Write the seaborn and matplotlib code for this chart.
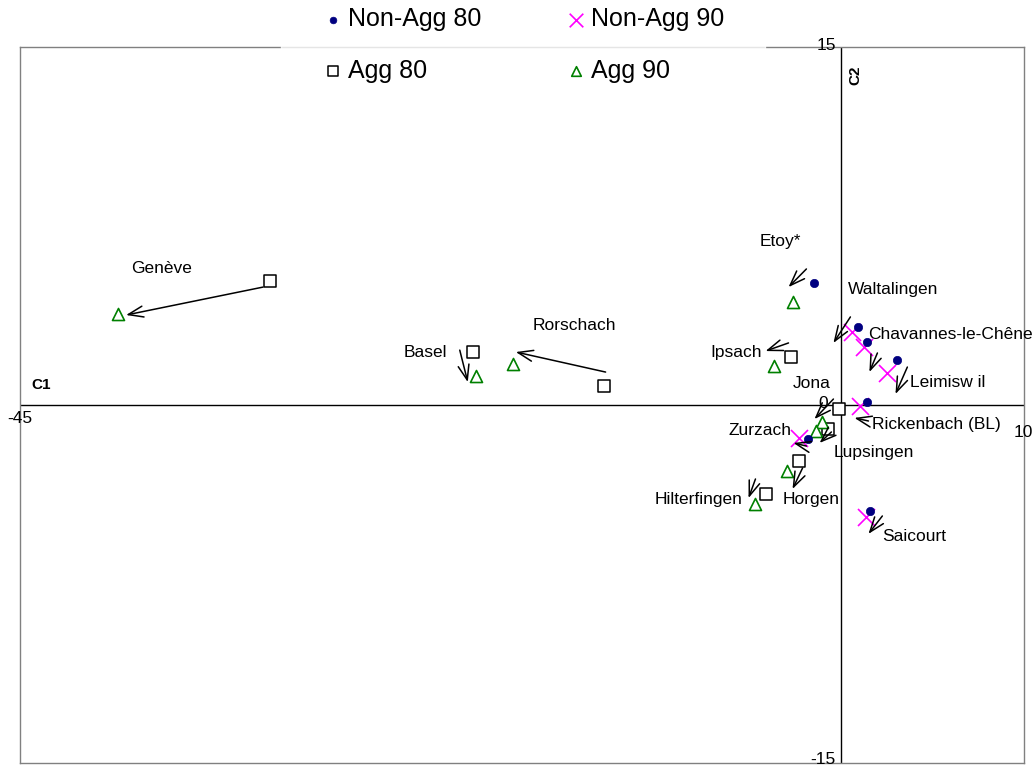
import numpy as np
import pandas as pd
import seaborn as sns
import matplotlib.pyplot as plt

# Communes on the first two components (C1, C2), 1980 and 1990
nonagg80_names = ["Etoy*", "Waltalingen", "Chavannes-le-Chêne", "Leimiswil",
                  "Rickenbach (BL)", "Zurzach", "Saicourt"]
nonagg80_c1 = [-1.53, 0.88, 1.42, 3.06, 1.42, -1.86, 1.59]
nonagg80_c2 = [5.11, 3.27, 2.64, 1.89, 0.13, -1.42, -4.44]

nonagg90_names = ["Waltalingen", "Chavannes-le-Chêne", "Leimiswil",
                  "Rickenbach (BL)", "Zurzach", "Saicourt"]
nonagg90_c1 = [0.60, 1.26, 2.52, 0.99, -2.35, 1.37]
nonagg90_c2 = [3.06, 2.43, 1.34, -0.04, -1.38, -4.69]

agg80_names = ["Genève", "Basel", "Rorschach", "Ipsach", "Jona",
               "Lupsingen", "Horgen", "Hilterfingen"]
agg80_c1 = [-31.31, -20.20, -13.03, -2.74, -0.16, -0.71, -2.30, -4.16]
agg80_c2 = [5.19, 2.22, 0.80, 2.01, -0.17, -1.01, -2.35, -3.73]

agg90_names = ["Genève", "Basel", "Rorschach", "Etoy*", "Ipsach", "Jona",
               "Lupsingen", "Horgen", "Hilterfingen"]
agg90_c1 = [-39.63, -20.03, -18.01, -2.63, -3.72, -1.04, -1.42, -3.01, -4.71]
agg90_c2 = [3.81, 1.21, 1.72, 4.32, 1.63, -0.71, -1.09, -2.76, -4.15]

# Direction arrows (1980 -> 1990) drawn beside each commune
arrow_from_c1 = [-31.69, -20.91, -12.92, -1.92, -2.90, 0.49, 1.97, 3.61,
                 1.48, -0.44, -0.55, -1.92, -2.13, -4.71, 2.24]
arrow_from_c2 = [4.94, 2.30, 1.38, 5.70, 2.60, 3.69, 2.18, 1.59,
                 -0.67, 0.25, -1.13, -1.72, -2.64, -3.10, -4.65]
arrow_to_c1 = [-39.19, -20.47, -17.84, -2.90, -4.16, -0.44, 1.53, 2.96,
               0.71, -1.48, -1.20, -2.63, -2.68, -5.09, 1.48]
arrow_to_c2 = [3.77, 0.96, 2.22, 4.94, 2.26, 2.60, 1.38, 0.46,
               -0.54, -0.59, -1.59, -1.59, -3.52, -3.90, -5.40]

# Commune name labels
label_text = ["Genève", "Rorschach", "Basel", "Etoy*", "Waltalingen",
              "Chavannes-le-Chêne", "Leimisw il", "Ipsach", "Jona",
              "Rickenbach (BL)", "Zurzach", "Lupsingen", "Horgen",
              "Hilterfingen", "Saicourt"]
label_c1 = [-37.22, -14.61, -22.77, -3.34, 0.38, 1.48, 3.78, -4.38, -1.64,
            1.70, -2.74, -0.44, -1.64, -5.42, 2.24]
label_c2 = [5.70, 3.35, 2.22, 6.83, 4.82, 2.97, 0.96, 2.18, 0.92,
            -0.80, -1.05, -2.01, -3.98, -3.98, -5.49]
label_ha = ["center", "center", "center", "center", "left", "left", "left",
            "right", "center", "left", "right", "left", "center", "right",
            "left"]

sns.set_style("white")
plt.rcParams["font.family"] = ["Liberation Sans", "DejaVu Sans"]
plt.rcParams["text.color"] = "black"

fig = plt.figure(figsize=(10.34, 7.67), dpi=100)
ax = fig.add_axes([20 / 1034, 1 - 763 / 767, 1004 / 1034, 716 / 767])
ax.set_xlim(-45, 10)
ax.set_ylim(-15, 15)

for sp in ax.spines.values():
    sp.set_color("#808080")
    sp.set_linewidth(1.0)
ax.set_xticks([])
ax.set_yticks([])

ax.axhline(0, color="black", lw=1.0, zorder=1)
ax.axvline(0, color="black", lw=1.0, zorder=1)

df_na80 = pd.DataFrame({"C1": nonagg80_c1, "C2": nonagg80_c2, "commune": nonagg80_names})
df_na90 = pd.DataFrame({"C1": nonagg90_c1, "C2": nonagg90_c2, "commune": nonagg90_names})
df_a80 = pd.DataFrame({"C1": agg80_c1, "C2": agg80_c2, "commune": agg80_names})
df_a90 = pd.DataFrame({"C1": agg90_c1, "C2": agg90_c2, "commune": agg90_names})

sns.scatterplot(data=df_na80, x="C1", y="C2", ax=ax, marker="o", s=36,
                color="#000080", edgecolor="#000080", linewidth=0.5,
                zorder=4, label="Non-Agg 80", legend=False)
sns.scatterplot(data=df_na90, x="C1", y="C2", ax=ax, marker="x", s=150,
                color="#ff00ff", linewidth=1.2, zorder=3,
                label="Non-Agg 90", legend=False)
sns.scatterplot(data=df_a80, x="C1", y="C2", ax=ax, marker="s", s=70,
                facecolor="white", edgecolor="black", linewidth=1.1,
                zorder=3, label="Agg 80", legend=False)
sns.scatterplot(data=df_a90, x="C1", y="C2", ax=ax, marker="^", s=75,
                facecolor="white", edgecolor="#008000", linewidth=1.2,
                zorder=3, label="Agg 90", legend=False)

for x0, y0, x1, y1 in zip(arrow_from_c1, arrow_from_c2, arrow_to_c1, arrow_to_c2):
    ax.annotate("", xy=(x1, y1), xytext=(x0, y0),
                arrowprops=dict(arrowstyle="->,head_length=0.6,head_width=0.22",
                                color="black", lw=1.1, mutation_scale=18,
                                shrinkA=0, shrinkB=0),
                zorder=5)

for txt, x, y, ha in zip(label_text, label_c1, label_c2, label_ha):
    ax.text(x, y, txt, ha=ha, va="center", fontsize=12.5, color="black",
            zorder=6, clip_on=False)

# Axis end values and component titles
tick_fs = 12.5
ax.text(-45, -0.25, "-45", ha="center", va="top", fontsize=tick_fs, clip_on=False)
ax.text(9.95, -0.85, "10", ha="center", va="top", fontsize=tick_fs, clip_on=False)
ax.text(-0.3, 15.05, "15", ha="right", va="center", fontsize=tick_fs, clip_on=False)
ax.text(-0.3, -14.85, "-15", ha="right", va="center", fontsize=tick_fs, clip_on=False)
ax.text(-1.0, 0.05, "0", ha="center", va="center", fontsize=tick_fs, clip_on=False)
ax.text(-44.35, 0.85, "C1", ha="left", va="center", fontsize=11,
        fontweight="bold")
ax.text(0.75, 13.8, "C2", ha="center", va="center", fontsize=11,
        fontweight="bold", rotation=90)

handles, labels = ax.get_legend_handles_labels()
order = [labels.index(n) for n in ["Non-Agg 80", "Agg 80", "Non-Agg 90", "Agg 90"]]
leg = fig.legend([handles[i] for i in order], [labels[i] for i in order],
                 ncol=2, loc="upper left", bbox_to_anchor=(268 / 1034, 1.059),
                 fontsize=18, frameon=True, fancybox=False,
                 borderpad=1.6, labelspacing=1.1, columnspacing=3.3,
                 handletextpad=0.1, handlelength=1.0, markerscale=0.8,
                 labelcolor="black")
leg.get_frame().set_facecolor("white")
leg.get_frame().set_edgecolor("white")
leg.set_zorder(10)

fig.savefig("out.png", dpi=100)
